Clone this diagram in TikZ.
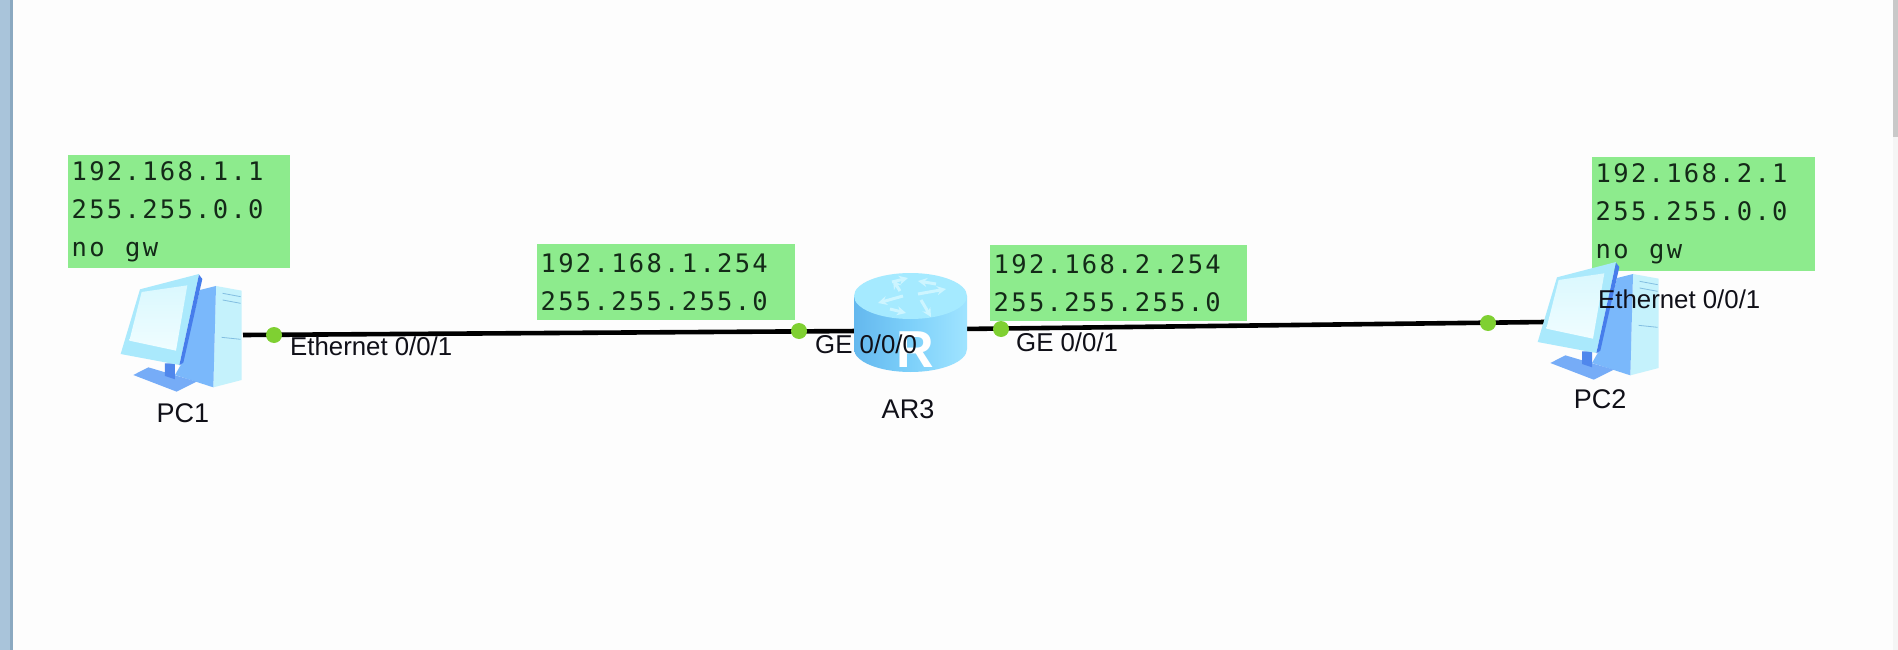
\documentclass[tikz,border=0pt]{standalone}
\usepackage{fontspec}
\usetikzlibrary{arrows.meta}
\setmainfont{Liberation Sans}
\newfontfamily\boxfont[LetterSpace=9]{DejaVu Sans Mono}
\definecolor{pagebg}{HTML}{FDFDFD}
\definecolor{boxgreen}{HTML}{8DEB8D}
\definecolor{boxtext}{HTML}{142A18}
\definecolor{portgreen}{HTML}{7FD032}
\definecolor{stripe}{HTML}{A9C4DA}
\definecolor{stripeedge}{HTML}{8BA9C1}
\definecolor{labeltext}{HTML}{101018}
\tikzset{
  infobox/.style={fill=boxgreen,anchor=north west,inner xsep=3.5,inner ysep=0,text=boxtext,align=left,
    font=\boxfont\fontsize{25.5}{38}\selectfont},
  devlabel/.style={text=labeltext,inner sep=0,anchor=base,font=\fontsize{27}{30}\selectfont},
  portlabel/.style={text=labeltext,inner sep=0,anchor=base west,font=\fontsize{25.8}{30}\selectfont},
  link/.style={line width=4.6pt,black},
  portdot/.style={circle,fill=portgreen,inner sep=0,minimum size=16},
  pcicon/.pic={
    \begin{scope}[scale=0.33333]
      % tower
      \fill[color={rgb,255:red,197;green,242;blue,252}] (648,468) -- (725,482) -- (725,750) -- (640,772) -- cycle;
      \fill[color={rgb,255:red,122;green,184;blue,251}] (600,480) -- (648,468) -- (640,772) -- (525,735) -- (545,700) -- cycle;
      \draw[color={rgb,255:red,130;green,190;blue,225},line width=0.8pt] (668,490) -- (722,500) (668,510) -- (722,520) (665,622) -- (722,628);
      % stand
      \fill[color={rgb,255:red,118;green,172;blue,247}] (400,735) -- (445,712) -- (590,755) -- (530,785) -- cycle;
      \fill[color={rgb,255:red,80;green,135;blue,236}] (495,700) -- (525,700) -- (525,748) -- (495,738) -- cycle;
      % monitor
      \fill[color={rgb,255:red,170;green,233;blue,252}] (420,478) -- (597,432) -- (538,705) -- (362,672) -- cycle;
      \fill[color={rgb,255:red,70;green,125;blue,235}] (597,434) -- (607,447) -- (550,698) -- (538,706) -- cycle;
      \shade[top color={rgb,255:red,218;green,248;blue,254},bottom color={rgb,255:red,240;green,253;blue,255}]
        (425,486) -- (562,466) -- (528,662) -- (388,632) -- cycle;
    \end{scope}
  },
}
\begin{document}
\begin{tikzpicture}[x=1pt,y=-1pt]
\useasboundingbox (0,0) rectangle (1898,650);
\fill[pagebg] (0,0) rectangle (1898,650);
\fill[stripe] (0,0) rectangle (10,650);
\fill[stripeedge] (10,0) rectangle (12.5,650);
\fill[black!4] (1893,137) rectangle (1898,650);
\fill[black!21] (1893,0) rectangle (1898,137);

% info boxes behind the icons
\node[infobox,text width=215pt,minimum height=113pt] (boxa) at (68,155) {192.168.1.1\\255.255.0.0\\no\hspace{12pt} gw};
\node[infobox,text width=251pt,minimum height=76pt] (boxb) at (537,244) {192.168.1.254\\255.255.255.0};
\node[infobox,text width=250pt,minimum height=76pt] (boxc) at (990,245) {192.168.2.254\\255.255.255.0};
\node[infobox,text width=216pt,minimum height=114pt] (boxd) at (1592,157) {192.168.2.1\\255.255.0.0\\no\hspace{12pt} gw};

% connector end points
\coordinate (pc1port) at (243,335);
\coordinate (ar3w) at (860,331);
\coordinate (ar3e) at (962,329);
\coordinate (pc2port) at (1545,322);
\draw[link] (pc1port) -- (ar3w);
\draw[link] (ar3e) -- (pc2port);

% PC icons
\pic (pcone) at (0,130) {pcicon};
\pic (pctwo) at (1417,118) {pcicon};

% router
\shade[left color={rgb,255:red,100;green,184;blue,238},right color={rgb,255:red,160;green,228;blue,255},middle color={rgb,255:red,125;green,208;blue,250}]
  (854,296) -- (854,349) arc[start angle=180,end angle=0,x radius=56.5,y radius=23] -- (967,296) -- cycle;
\fill[color={rgb,255:red,165;green,234;blue,255}] (910.5,296) ellipse[x radius=56.5,y radius=23];
\begin{scope}[color={rgb,255:red,205;green,245;blue,255},line width=3pt,-{Stealth[length=9pt,width=9pt]}]
  \draw (900,291) -- (893,280);
  \draw (903,296) -- (878,303);
  \draw (918,294) -- (946,289);
  \draw (921,300) -- (931,317);
  \draw (892,282) -- (908,278);
  \draw (936,284) -- (918,281);
  \draw (890,309) -- (906,313);
\end{scope}
\node[inner sep=0,anchor=base,text=white,font=\bfseries\fontsize{52}{52}\selectfont] (rglyph) at (915,367) {R};

% port dots
\node[portdot] (d1) at (274,335) {};
\node[portdot] (d2) at (799,331) {};
\node[portdot] (d3) at (1001,329) {};
\node[portdot] (d4) at (1488,323) {};

% labels
\node[portlabel] (l1) at (290,355) {Ethernet 0/0/1};
\node[portlabel] (l2) at (815,353) {GE 0/0/0};
\node[portlabel] (l3) at (1016,351) {GE 0/0/1};
\node[portlabel] (l4) at (1598,308) {Ethernet 0/0/1};
\node[devlabel] (n1) at (183,422) {PC1};
\node[devlabel] (n2) at (908,418) {AR3};
\node[devlabel] (n3) at (1600,408) {PC2};
\end{tikzpicture}
\end{document}
